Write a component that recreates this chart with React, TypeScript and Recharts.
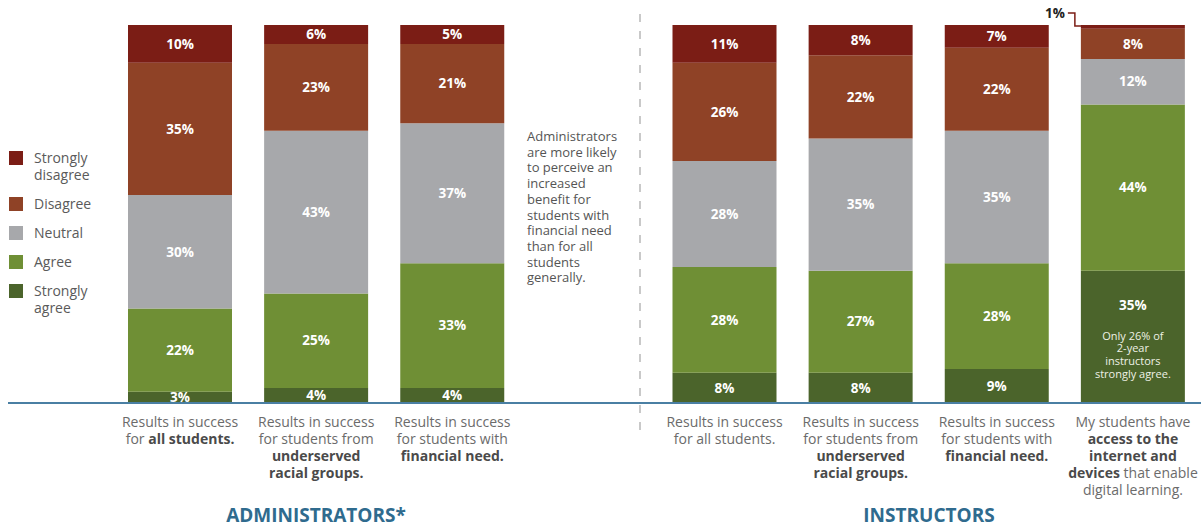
import React from "react";
import { Bar, BarChart, LabelList, Legend, XAxis, YAxis } from "recharts";

// category slots; "note" is the empty slot where the admin callout text sits
const categories = [
  "adminAll",
  "adminRacial",
  "adminFinancial",
  "note",
  "instrAll",
  "instrRacial",
  "instrFinancial",
  "instrAccess",
];

// tick text, **bold** parts marked
const tickLines: string[][] = [
  ["Results in success", "for **all students.**"],
  ["Results in success", "for students from", "**underserved**", "**racial groups.**"],
  ["Results in success", "for students with", "**financial need.**"],
  [],
  ["Results in success", "for all students."],
  ["Results in success", "for students from", "**underserved**", "**racial groups.**"],
  ["Results in success", "for students with", "**financial need.**"],
  ["My students have", "**access to the**", "**internet and**", "**devices** that enable", "digital learning."],
];

const stronglyAgree = [3, 4, 4, null, 8, 8, 9, 35];
const agree = [22, 25, 33, null, 28, 27, 28, 44];
const neutral = [30, 43, 37, null, 28, 35, 35, 12];
const disagree = [35, 23, 21, null, 26, 22, 22, 8];
const stronglyDisagree = [10, 6, 5, null, 11, 8, 7, 1];

const barNotes: (string[] | null)[] = [
  null, null, null, null, null, null, null,
  ["Only 26% of", "2-year", "instructors", "strongly agree."],
];

const calloutText = "Administrators are more likely to perceive an increased benefit for students with financial need than for all students generally.";
const groupTitles = ["ADMINISTRATORS*", "INSTRUCTORS"];

const series = [
  { key: "stronglyAgree", name: "Strongly agree", values: stronglyAgree, color: "#4b642b" },
  { key: "agree", name: "Agree", values: agree, color: "#6f8f35" },
  { key: "neutral", name: "Neutral", values: neutral, color: "#a7a8ab" },
  { key: "disagree", name: "Disagree", values: disagree, color: "#8f4226" },
  { key: "stronglyDisagree", name: "Strongly disagree", values: stronglyDisagree, color: "#7b1d15" },
];

const data = categories.map((category, i) => {
  const row: Record<string, string | number | null> = { category };
  series.forEach((s) => (row[s.key] = s.values[i]));
  return row;
});

const FONT = "'Open Sans', sans-serif";

function CategoryTick(props: any) {
  const { x, y, payload } = props;
  const lines = tickLines[categories.indexOf(payload.value)] ?? [];
  return (
    <g transform={`translate(${x},${y})`}>
      {lines.map((line, i) => (
        <text key={i} x={0} y={16 + i * 17} textAnchor="middle" fontSize={14} fontFamily={FONT} fill="#6b6b6b">
          {line.split("**").map((part, j) => (
            <tspan key={j} fontWeight={j % 2 ? 700 : 400} fill={j % 2 ? "#4a4a4a" : "#6b6b6b"}>
              {part}
            </tspan>
          ))}
        </text>
      ))}
    </g>
  );
}

// label value comes through as the category key; the number is looked up in the series
function SegmentLabel(props: any) {
  const { x, y, width, height, value, values, withNote, lineColor } = props;
  const idx = categories.indexOf(value);
  const v = idx >= 0 ? values[idx] : null;
  if (v == null || !isFinite(x) || !isFinite(y)) return null;
  const cx = x + width / 2;
  if (v < 2) {
    return (
      <g>
        <text x={x - 16} y={y - 7} textAnchor="end" fontSize={13.5} fontWeight={700} fontFamily={FONT} fill="#222">
          {v}%
        </text>
        <polyline
          points={`${x - 13},${y - 12} ${x - 6},${y - 12} ${x - 6},${y + 1} ${x + 1},${y + 1}`}
          fill="none"
          stroke={lineColor}
          strokeWidth={1.5}
        />
      </g>
    );
  }
  const note = withNote ? barNotes[idx] : null;
  const labelProps = { textAnchor: "middle" as const, fill: "#fff", fontSize: 13.5, fontWeight: 700, fontFamily: FONT };
  if (note) {
    return (
      <g>
        <text x={cx} y={y + 35} dy="0.35em" {...labelProps}>
          {v}%
        </text>
        {note.map((line, i) => (
          <text key={i} x={cx} y={y + 65 + i * 12.7} dy="0.35em" textAnchor="middle" fontFamily={FONT} fill="#eef1e6" fontSize={11}>
            {line}
          </text>
        ))}
      </g>
    );
  }
  return (
    <text x={cx} y={y + height / 2} dy="0.35em" {...labelProps}>
      {v}%
    </text>
  );
}

function LegendList() {
  const items = [...series].reverse();
  return (
    <div style={{ fontFamily: FONT, fontSize: 14, color: "#5a5a5a", lineHeight: "17px" }}>
      {items.map((item) => (
        <div key={item.key} style={{ display: "flex", alignItems: "flex-start", marginBottom: 12 }}>
          <span style={{ width: 14, height: 14, marginTop: 1.5, marginLeft: 9, marginRight: 11, background: item.color, flex: "none" }} />
          <span style={{ width: 70 }}>{item.name}</span>
        </div>
      ))}
    </div>
  );
}

export default function App() {
  return (
    <div style={{ position: "absolute", left: 0, top: 0, width: 1201, height: 526, background: "#fff", fontFamily: FONT }}>
      <svg width={1201} height={526} style={{ position: "absolute", left: 0, top: 0 }}>
        <line x1={640} x2={640} y1={14} y2={437} stroke="#c9c9c9" strokeWidth={2} strokeDasharray="8 9" />
      </svg>
      <div style={{ position: "absolute", left: 0, top: 0 }}>
        <BarChart width={1201} height={526} data={data} margin={{ top: 25, right: 0, left: 8, bottom: 93 }}>
          <XAxis
            dataKey="category"
            interval={0}
            height={30}
            padding={{ left: 104, right: 0 }}
            tickLine={false}
            axisLine={{ stroke: "#4a7fa3", strokeWidth: 2 }}
            tick={<CategoryTick />}
          />
          <YAxis hide domain={[0, 100]} allowDataOverflow />
          <Legend
            layout="vertical"
            align="center"
            verticalAlign="middle"
            content={<LegendList />}
            wrapperStyle={{ left: 0, top: 149, width: 112 }}
          />
          {series.map((s) => (
            <Bar key={s.key} dataKey={s.key} name={s.name} stackId="a" fill={s.color} barSize={104} isAnimationActive={false}>
              <LabelList
                dataKey="category"
                content={(p: any) => (
                  <SegmentLabel {...p} values={s.values} withNote={s.key === "stronglyAgree"} lineColor={s.color} />
                )}
              />
            </Bar>
          ))}
        </BarChart>
      </div>
      <div
        style={{
          position: "absolute",
          left: 527,
          top: 129,
          width: 100,
          fontSize: 13,
          lineHeight: "15.7px",
          color: "#555",
        }}
      >
        {calloutText}
      </div>
      <div style={{ position: "absolute", left: 216, width: 200, top: 502, textAlign: "center", fontSize: 19, fontWeight: 700, color: "#2f6b8e" }}>
        {groupTitles[0]}
      </div>
      <div style={{ position: "absolute", left: 829, width: 200, top: 502, textAlign: "center", fontSize: 19, fontWeight: 700, color: "#2f6b8e" }}>
        {groupTitles[1]}
      </div>
    </div>
  );
}
